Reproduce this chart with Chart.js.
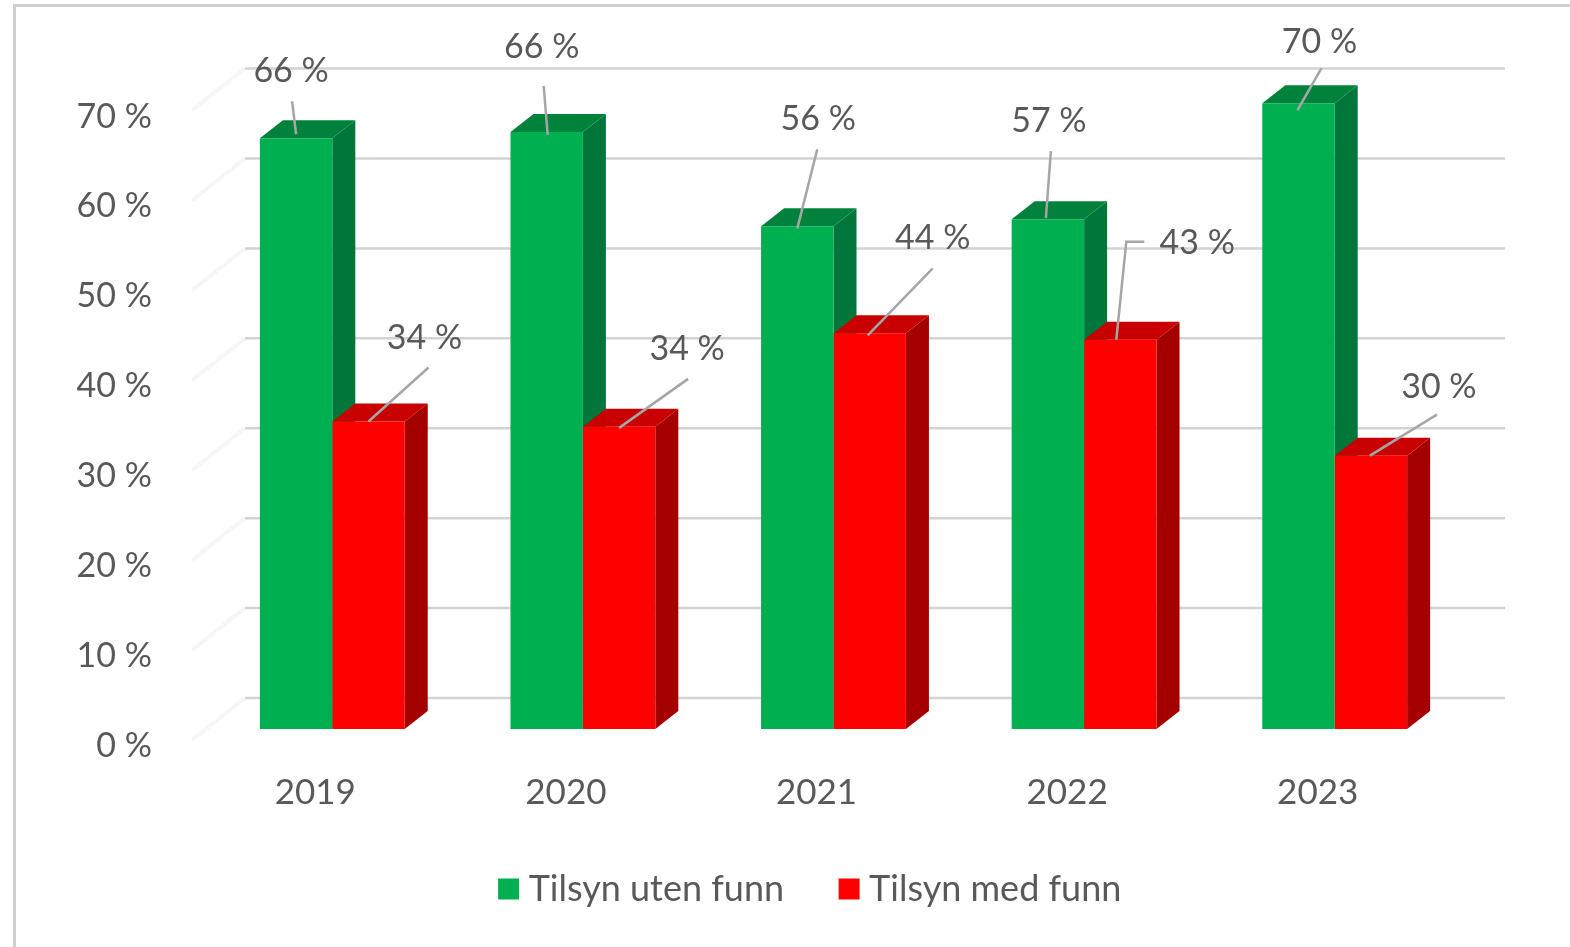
<!DOCTYPE html>
<html>
<head>
<meta charset="utf-8">
<title>Tilsyn</title>
<script src="https://cdn.jsdelivr.net/npm/chart.js@4"></script>
<style>
    html, body { margin: 0; padding: 0; background: #fff; overflow: hidden; }
    #frame { position: absolute; left: 13px; top: 4px; width: 1570px; height: 960px;
             border-left: 3px solid #cfcfcf; border-top: 3px solid #cfcfcf; }
    #wrap { position: absolute; left: 0; top: 0; width: 1570px; height: 947px; filter: blur(0.5px); }
</style>
</head>
<body>
<div id="frame"></div>
<div id="wrap"><canvas id="chart" width="1570" height="947"></canvas></div>
<script>
const categories = ['2019', '2020', '2021', '2022', '2023'];
const seriesNames = ['Tilsyn uten funn', 'Tilsyn med funn'];
const utenFunn = [65.7, 66.4, 55.9, 56.7, 69.6];
const medFunn = [34.2, 33.6, 44.0, 43.3, 30.4];

const TEXT = '#595959';
const FONT = 'Lato';
const FONT_SIZE = 34;

// depth of the fake 3d bars, and how far the back wall sits behind them
const DEPTH_X = 23, DEPTH_Y = 18;
const WALL_LEFT = 38, WALL_RIGHT = 45;
const Y_MAX = 74.4, WALL_SHIFT = 3.45;

const faces = [
    { side: '#00763a', top: '#00823c' },
    { side: '#a40000', top: '#c80000' }
];

// callouts, relative to the top centre of each bar: label centre and leader path
const callouts = [
    [
        { label: [-5, -67], path: [[0, -4], [-4, -37]] },
        { label: [-5, -85], path: [[1, 3], [-3, -46]] },
        { label: [21, -107], path: [[0, 2], [20, -77]] },
        { label: [1, -98], path: [[-2, -1], [3, -68]] },
        { label: [21, -61], path: [[-1, 7], [23, -35]] }
    ],
    [
        { label: [56, -83], path: [[0, 0], [60, -54]] },
        { label: [68, -78], path: [[0, 1], [69, -48]] },
        { label: [63, -95], path: [[-2, 2], [63, -65]] },
        { label: [77, -97], path: [[-4, 0], [6, -98], [24, -98]] },
        { label: [68, -69], path: [[-1, 0], [66, -41]] }
    ]
];

function polygon(ctx, pts, color) {
    ctx.fillStyle = color;
    ctx.beginPath();
    pts.forEach((p, i) => i ? ctx.lineTo(p[0], p[1]) : ctx.moveTo(p[0], p[1]));
    ctx.closePath();
    ctx.fill();
}

const wallPlugin = {
    id: 'wall',
    beforeDatasetsDraw(chart) {
        const { ctx, chartArea, scales } = chart;
        const wall = scales.wall;
        ctx.save();
        wall.ticks.forEach(t => {
            const y = wall.getPixelForValue(t.value);
            // very faint side wall
            ctx.strokeStyle = '#f7f5f5';
            ctx.lineWidth = 4;
            ctx.beginPath();
            ctx.moveTo(chartArea.left - 15, y + 42);
            ctx.lineTo(chartArea.left + WALL_LEFT, y);
            ctx.stroke();
            ctx.strokeStyle = '#d3d3d3';
            ctx.lineWidth = 2.5;
            ctx.beginPath();
            ctx.moveTo(chartArea.left + WALL_LEFT, y);
            ctx.lineTo(chartArea.right + WALL_RIGHT, y);
            ctx.stroke();
        });
        ctx.restore();
    }
};

const depthPlugin = {
    id: 'depth',
    beforeDatasetsDraw(chart) {
        const ctx = chart.ctx;
        ctx.save();
        chart.data.datasets.forEach((ds, d) => {
            chart.getDatasetMeta(d).data.forEach(bar => {
                const l = bar.x - bar.width / 2, r = bar.x + bar.width / 2;
                const t = bar.y, b = bar.base;
                polygon(ctx, [[r, t], [r + DEPTH_X, t - DEPTH_Y], [r + DEPTH_X, b - DEPTH_Y], [r, b]], faces[d].side);
                polygon(ctx, [[l, t], [l + DEPTH_X, t - DEPTH_Y], [r + DEPTH_X, t - DEPTH_Y], [r, t]], faces[d].top);
            });
        });
        ctx.restore();
    }
};

const calloutPlugin = {
    id: 'callout',
    afterDatasetsDraw(chart) {
        const ctx = chart.ctx;
        ctx.save();
        ctx.font = FONT_SIZE + 'px ' + FONT;
        ctx.textAlign = 'center';
        ctx.textBaseline = 'middle';
        chart.data.datasets.forEach((ds, d) => {
            chart.getDatasetMeta(d).data.forEach((bar, i) => {
                const c = callouts[d][i];
                ctx.strokeStyle = '#a6a6a6';
                ctx.lineWidth = 2.5;
                ctx.beginPath();
                c.path.forEach((p, k) => {
                    if (k) ctx.lineTo(bar.x + p[0], bar.y + p[1]);
                    else ctx.moveTo(bar.x + p[0], bar.y + p[1]);
                });
                ctx.stroke();
                ctx.fillStyle = TEXT;
                ctx.fillText(Math.round(ds.data[i]) + ' %', bar.x + c.label[0], bar.y + c.label[1]);
            });
        });
        ctx.restore();
    }
};

Chart.defaults.font.family = FONT;
Chart.defaults.font.size = FONT_SIZE;
Chart.defaults.color = TEXT;

new Chart(document.getElementById('chart'), {
    type: 'bar',
    data: {
        labels: categories,
        datasets: [
            { label: seriesNames[0], data: utenFunn, backgroundColor: '#00b050' },
            { label: seriesNames[1], data: medFunn, backgroundColor: '#ff0000' }
        ]
    },
    plugins: [wallPlugin, depthPlugin, calloutPlugin],
    options: {
        responsive: false,
        animation: false,
        events: [],
        devicePixelRatio: 1,
        layout: { padding: { left: 58, right: 0, top: 60, bottom: 30 } },
        categoryPercentage: 0.578,
        barPercentage: 1,
        plugins: {
            tooltip: { enabled: false },
            legend: {
                position: 'bottom',
                labels: {
                    usePointStyle: true,
                    pointStyle: 'rect',
                    boxWidth: 4,
                    boxHeight: 21,
                    padding: 63,
                    color: TEXT,
                    font: { family: FONT, size: 36 }
                }
            }
        },
        scales: {
            x: {
                grid: { display: false },
                border: { display: false },
                ticks: { padding: 35, labelOffset: -17, color: TEXT, font: { size: 35 } },
                afterFit(scale) { scale.height = 79; }
            },
            y: {
                min: 0,
                max: Y_MAX,
                grid: { display: false, drawTicks: false },
                border: { display: false },
                ticks: {
                    stepSize: 10,
                    includeBounds: false,
                    padding: 55,
                    labelOffset: 17,
                    color: TEXT,
                    callback: v => v + ' %'
                },
                afterFit(scale) {
                    scale.width = 149;
                    // tick padding would otherwise eat into the plot area
                    scale.paddingTop = 0;
                    scale.paddingBottom = 0;
                }
            },
            // the back wall: same percent scale, lifted behind the bars
            wall: {
                position: 'right',
                min: -WALL_SHIFT,
                max: Y_MAX - WALL_SHIFT,
                grid: { display: false, drawTicks: false },
                border: { display: false },
                ticks: {
                    stepSize: 10,
                    includeBounds: false,
                    callback: () => ''
                },
                afterFit(scale) {
                    scale.width = 110;
                    scale.paddingTop = 0;
                    scale.paddingBottom = 0;
                }
            }
        }
    }
});
</script>
</body>
</html>
